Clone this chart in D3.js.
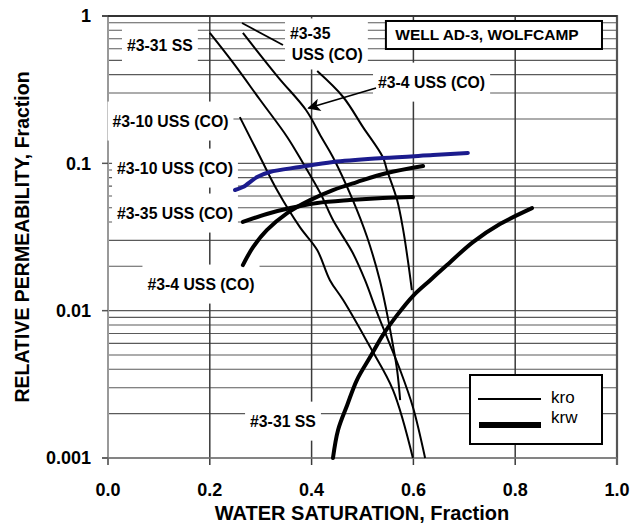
<!DOCTYPE html>
<html><head><meta charset="utf-8">
<script src="https://cdn.jsdelivr.net/npm/d3@7"></script>
<style>body{margin:0;background:#fff}svg{display:block;font-family:"Liberation Sans",Arial,sans-serif}</style>
</head><body><svg id="c" width="640" height="524"></svg>
<script>
// ---------- data ----------
const xTickValues = [0, 0.2, 0.4, 0.6, 0.8, 1.0];
const xTickLabels = ["0.0", "0.2", "0.4", "0.6", "0.8", "1.0"];
const yTickValues = [1, 0.1, 0.01, 0.001];
const yTickLabels = ["1", "0.1", "0.01", "0.001"];

// kro (thin) curves
const kro31Sw = [0.200, 0.246, 0.299, 0.352, 0.383, 0.417, 0.442, 0.481, 0.505, 0.529, 0.548, 0.574, 0.599, 0.623];
const kro31   = [0.767, 0.480, 0.269, 0.151, 0.1005, 0.0629, 0.0412, 0.0246, 0.0161, 0.00963, 0.00662, 0.00395, 0.00222, 0.001];
const kro35Sw = [0.265, 0.334, 0.389, 0.419, 0.442, 0.481, 0.509, 0.534, 0.548, 0.558, 0.568, 0.574];
const kro35   = [0.767, 0.385, 0.230, 0.151, 0.110, 0.0563, 0.0316, 0.0161, 0.00963, 0.00632, 0.00395, 0.00247];
const kro4Sw  = [0.411, 0.462, 0.501, 0.540, 0.548, 0.568, 0.580, 0.589, 0.597];
const kro4    = [0.423, 0.282, 0.176, 0.110, 0.090, 0.0563, 0.0352, 0.0221, 0.0138];
const kro10Sw = [0.259, 0.299, 0.332, 0.377, 0.411, 0.436, 0.462, 0.515, 0.560, 0.599];
const kro10   = [0.206, 0.110, 0.0659, 0.0369, 0.0258, 0.0161, 0.0118, 0.00566, 0.00289, 0.001];

// krw (thick) curves
const krw10Sw = [0.2495, 0.265, 0.293, 0.318, 0.377, 0.442, 0.540, 0.6385, 0.707];
const krw10   = [0.0659, 0.069, 0.0807, 0.0873, 0.0944, 0.102, 0.1086, 0.1138, 0.1175];
const krw35Sw = [0.265, 0.312, 0.358, 0.411, 0.475, 0.540, 0.599];
const krw35   = [0.0400, 0.0453, 0.0497, 0.0538, 0.0563, 0.0581, 0.0590];
const krw4Sw  = [0.265, 0.285, 0.312, 0.352, 0.397, 0.442, 0.489, 0.548, 0.619];
const krw4    = [0.0204, 0.0270, 0.0352, 0.0460, 0.0563, 0.0659, 0.0746, 0.0859, 0.0959];
const krw31Sw = [0.442, 0.452, 0.470, 0.489, 0.515, 0.540, 0.568, 0.599, 0.633, 0.666, 0.717, 0.770, 0.833];
const krw31   = [0.001, 0.00155, 0.00229, 0.00338, 0.00484, 0.00683, 0.00933, 0.01257, 0.0161, 0.0204, 0.0292, 0.0387, 0.0497];

// annotation labels (data coordinates)
const labelTexts = ["#3-31 SS", "#3-10 USS (CO)", "#3-10 USS (CO)", "#3-35 USS (CO)", "#3-4 USS (CO)", "#3-31 SS", "#3-4 USS (CO)"];
const labelSw    = [0.102, 0.1228, 0.1316, 0.1316, 0.1827, 0.3438, 0.5305];
const labelKr    = [0.635, 0.1937, 0.0929, 0.046, 0.01516, 0.00178, 0.356];
const labelAnchor = ["middle", "middle", "middle", "middle", "middle", "middle", "start"];
const label35Lines = ["#3-35", "USS (CO)"];
const titleText = "WELL AD-3, WOLFCAMP";
const legendLabels = ["kro", "krw"];

// ---------- chart ----------
const L = 108, R = 617, T = 16, B = 458;
const x = d3.scaleLinear().domain([0, 1]).range([L, R]);
const y = d3.scaleLog().domain([0.001, 1]).range([B, T]);
const svg = d3.select("#c");

const gGrid = svg.append("g");
const gBox = svg.append("g");
const gCurve = svg.append("g");
const gText = svg.append("g");

// horizontal grid (1..9 per decade)
gGrid.selectAll("line.h").data(y.ticks()).join("line")
  .attr("x1", L).attr("x2", R)
  .attr("y1", d => y(d)).attr("y2", d => y(d))
  .attr("stroke", "#5a5a5a").attr("stroke-width", 1.1);
// vertical grid
gGrid.selectAll("line.v").data(xTickValues.slice(1, -1)).join("line")
  .attr("x1", d => x(d)).attr("x2", d => x(d))
  .attr("y1", T).attr("y2", B + 7)
  .attr("stroke", "#3a3a3a").attr("stroke-width", 1.5);
// frame
gGrid.append("line").attr("x1", L).attr("x2", L).attr("y1", T).attr("y2", B + 7).attr("stroke", "#999").attr("stroke-width", 2);
gGrid.append("line").attr("x1", R).attr("x2", R).attr("y1", T - 1).attr("y2", B + 7).attr("stroke", "#555").attr("stroke-width", 2.2);
gGrid.append("line").attr("x1", L - 6).attr("x2", R).attr("y1", T).attr("y2", T).attr("stroke", "#333").attr("stroke-width", 2);
gGrid.append("line").attr("x1", L - 6).attr("x2", R).attr("y1", B).attr("y2", B).attr("stroke", "#777").attr("stroke-width", 1.5);
// y decade ticks
gGrid.selectAll("line.yt").data(yTickValues).join("line")
  .attr("x1", L - 6).attr("x2", L).attr("y1", d => y(d)).attr("y2", d => y(d))
  .attr("stroke", "#555").attr("stroke-width", 1.5);
// x ticks at ends
gGrid.selectAll("line.xt").data([0, 1]).join("line")
  .attr("x1", d => x(d)).attr("x2", d => x(d)).attr("y1", B).attr("y2", B + 7)
  .attr("stroke", "#666").attr("stroke-width", 1.5);

// tick labels
gText.selectAll("text.xl").data(xTickValues).join("text")
  .attr("x", d => x(d)).attr("y", 490).attr("dy", "0.35em")
  .attr("text-anchor", "middle").attr("font-size", 18).attr("font-weight", "bold")
  .text((d, i) => xTickLabels[i]);
gText.selectAll("text.yl").data(yTickValues).join("text")
  .attr("x", 91).attr("y", d => y(d)).attr("dy", "0.35em")
  .attr("text-anchor", "end").attr("font-size", 18).attr("font-weight", "bold")
  .text((d, i) => yTickLabels[i]);

// axis titles
gText.append("text").attr("x", 362).attr("y", 520).attr("text-anchor", "middle")
  .attr("font-size", 20).attr("font-weight", "bold").text("WATER SATURATION, Fraction");
gText.append("text").attr("transform", "translate(29,237) rotate(-90)").attr("text-anchor", "middle")
  .attr("font-size", 19.5).attr("font-weight", "bold").text("RELATIVE PERMEABILITY, Fraction");

// label helper with white background
function addLabel(txt, sx, ky, anchor, padX, padY) {
  const t = gText.append("text").attr("x", x(sx)).attr("y", y(ky)).attr("dy", "0.35em")
    .attr("text-anchor", anchor).attr("font-size", 15.8).attr("font-weight", "bold").text(txt);
  const b = t.node().getBBox();
  gBox.append("rect").attr("x", b.x - padX).attr("y", b.y - padY)
    .attr("width", b.width + 2 * padX).attr("height", b.height + 2 * padY).attr("fill", "#fff");
}
labelTexts.forEach((t, i) => addLabel(t, labelSw[i], labelKr[i], labelAnchor[i], 5, 11));

// two-line #3-35 label
const t35a = gText.append("text").attr("x", x(0.3576)).attr("y", y(0.767)).attr("dy", "0.35em")
  .attr("font-size", 15.8).attr("font-weight", "bold").text(label35Lines[0]);
const t35b = gText.append("text").attr("x", x(0.361)).attr("y", y(0.544)).attr("dy", "0.35em")
  .attr("font-size", 15.8).attr("font-weight", "bold").text(label35Lines[1]);
{
  const a = t35a.node().getBBox(), b = t35b.node().getBBox();
  const x0 = Math.min(a.x, b.x) - 5, x1 = Math.max(a.x + a.width, b.x + b.width) + 5;
  gBox.append("rect").attr("x", x0).attr("y", a.y - 6).attr("width", x1 - x0)
    .attr("height", b.y + b.height - a.y + 12).attr("fill", "#fff");
}

// title box
{
  const x0 = x(0.546), x1 = x(0.9705), y0 = y(0.925), y1 = y(0.597);
  gBox.append("rect").attr("x", x0).attr("y", y0).attr("width", x1 - x0).attr("height", y1 - y0)
    .attr("fill", "#fff").attr("stroke", "#000").attr("stroke-width", 2);
  gText.append("text").attr("x", x(0.7446)).attr("y", (y0 + y1) / 2).attr("dy", "0.35em")
    .attr("text-anchor", "middle").attr("font-size", 15.5).attr("font-weight", "bold").text(titleText);
}

// curves
const line = d3.line().x(d => x(d[0])).y(d => y(d[1])).curve(d3.curveCatmullRom.alpha(0.5));
const zip = (a, b) => a.map((v, i) => [v, b[i]]);
const kroSets = [[kro31Sw, kro31], [kro35Sw, kro35], [kro4Sw, kro4], [kro10Sw, kro10]];
kroSets.forEach(([s, k]) => gCurve.append("path").attr("d", line(zip(s, k)))
  .attr("fill", "none").attr("stroke", "#000").attr("stroke-width", 2));
const krwSets = [[krw35Sw, krw35, "#000"], [krw4Sw, krw4, "#000"], [krw31Sw, krw31, "#000"], [krw10Sw, krw10, "#1c1c8e"]];
krwSets.forEach(([s, k, c]) => gCurve.append("path").attr("d", line(zip(s, k)))
  .attr("fill", "none").attr("stroke", c).attr("stroke-width", 4).attr("stroke-linecap", "round"));

// leader line and arrow
gCurve.append("line").attr("x1", x(0.2633)).attr("y1", y(0.8964)).attr("x2", x(0.3438)).attr("y2", y(0.635))
  .attr("stroke", "#000").attr("stroke-width", 1.8);
svg.append("defs").append("marker").attr("id", "ah").attr("viewBox", "0 0 10 10")
  .attr("refX", 9).attr("refY", 5).attr("markerWidth", 11).attr("markerHeight", 8)
  .attr("orient", "auto").attr("markerUnits", "strokeWidth")
  .append("path").attr("d", "M0,0L10,5L0,10L2.5,5z").attr("fill", "#000");
gCurve.append("line").attr("x1", x(0.5305) - 2).attr("y1", y(0.3245)).attr("x2", x(0.394)).attr("y2", y(0.2373))
  .attr("stroke", "#000").attr("stroke-width", 1.6).attr("marker-end", "url(#ah)");

// legend
{
  const lx0 = 470, ly0 = 375, lw = 132, lh = 69;
  const g = svg.append("g");
  g.append("rect").attr("x", lx0).attr("y", ly0).attr("width", lw).attr("height", lh)
    .attr("fill", "#fff").attr("stroke", "#000").attr("stroke-width", 2);
  g.append("line").attr("x1", 478).attr("x2", 541).attr("y1", 399).attr("y2", 399).attr("stroke", "#000").attr("stroke-width", 2);
  g.append("line").attr("x1", 479).attr("x2", 541).attr("y1", 425).attr("y2", 425).attr("stroke", "#000").attr("stroke-width", 6);
  g.selectAll("text").data(legendLabels).join("text")
    .attr("x", 551).attr("y", (d, i) => 397 + i * 20).attr("dy", "0.35em")
    .attr("font-size", 17).text(d => d);
}
</script></body></html>
